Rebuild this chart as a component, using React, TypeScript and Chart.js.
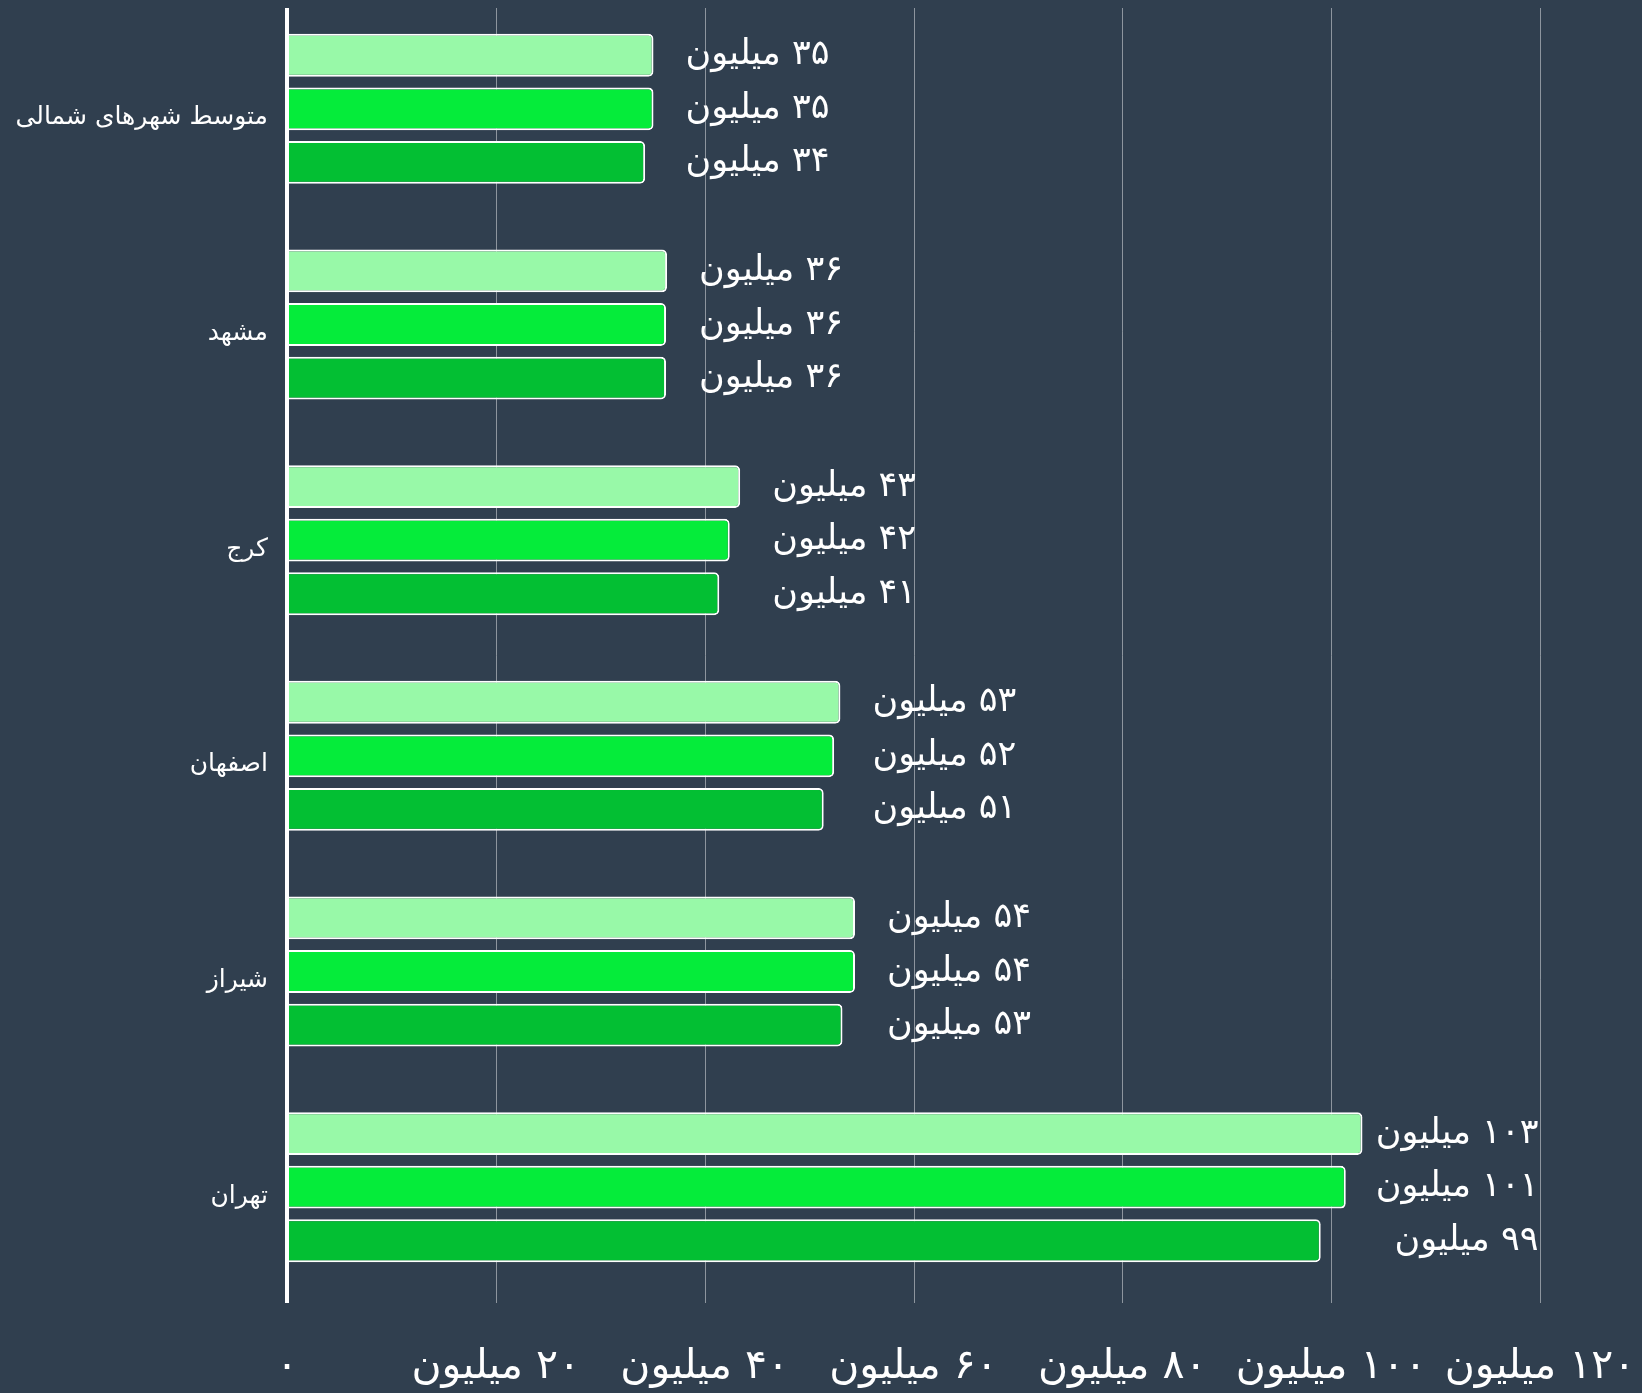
import React, { useEffect, useRef } from 'react';
import { Chart, registerables } from 'chart.js';

Chart.register(...registerables);

// ---- data ----
const categories = ['متوسط شهرهای شمالی', 'مشهد', 'کرج', 'اصفهان', 'شیراز', 'تهران'];
const seriesNames = ['سری ۱', 'سری ۲', 'سری ۳'];
const seriesA = [35.1, 36.4, 43.4, 53.0, 54.4, 103.0];
const seriesB = [35.1, 36.3, 42.4, 52.4, 54.4, 101.4];
const seriesC = [34.3, 36.3, 41.4, 51.4, 53.2, 99.0];
const xTickValues = [0, 20, 40, 60, 80, 100, 120];
const unitLabel = 'میلیون';

// ---- styles ----
const BG = '#303F4F';
const COLORS = ['#98F9A8', '#05EC3A', '#03BF33'];
const GRID_COLOR = 'rgba(255,255,255,0.45)';
const FONT = '"DejaVu Sans", sans-serif';

const toFa = (n: number | string) =>
  String(n).replace(/\d/g, (d) => '۰۱۲۳۴۵۶۷۸۹'[+d]);

const fmtTick = (v: number) => (v === 0 ? toFa(0) : '\u200F' + toFa(v) + ' ' + unitLabel);

const overlayPlugin = {
  id: 'overlay',
  beforeDraw(chart: any) {
    const { ctx, width, height } = chart;
    ctx.save();
    ctx.fillStyle = BG;
    ctx.fillRect(0, 0, width, height);
    ctx.restore();
  },
  beforeDatasetsDraw(chart: any) {
    const { ctx } = chart;
    const xs = chart.scales.x;
    ctx.save();
    ctx.strokeStyle = GRID_COLOR;
    ctx.lineWidth = 1;
    xTickValues.forEach((v) => {
      if (v === 0) return;
      const px = Math.round(xs.getPixelForValue(v)) + 0.5;
      ctx.beginPath();
      ctx.moveTo(px, 8);
      ctx.lineTo(px, 1303);
      ctx.stroke();
    });
    ctx.restore();
  },
  afterDatasetsDraw(chart: any) {
    const { ctx } = chart;
    const xs = chart.scales.x;
    // axis line
    ctx.save();
    ctx.strokeStyle = '#ffffff';
    ctx.lineWidth = 4;
    const x0 = xs.getPixelForValue(0);
    ctx.beginPath();
    ctx.moveTo(x0, 8);
    ctx.lineTo(x0, 1303);
    ctx.stroke();
    ctx.restore();

    // value labels
    const all = [seriesA, seriesB, seriesC];
    ctx.save();
    ctx.fillStyle = '#ffffff';
    ctx.font = `35px ${FONT}`;
    ctx.textAlign = 'right';
    ctx.textBaseline = 'middle';
    (ctx as any).direction = 'rtl';
    categories.forEach((_, i) => {
      const groupMax = Math.max(...all.map((s) => s[i]));
      const xr = xs.getPixelForValue(groupMax) + 176;
      all.forEach((s, j) => {
        const bar = chart.getDatasetMeta(j).data[i];
        if (!bar) return;
        ctx.fillText(toFa(Math.round(s[i])) + ' ' + unitLabel, xr, bar.y);
      });
    });
    ctx.restore();
  },
};

export default function App() {
  const ref = useRef<HTMLCanvasElement | null>(null);

  useEffect(() => {
    document.body.style.margin = '0';
    document.body.style.background = BG;
    if (!ref.current) return;
    const chart = new Chart(ref.current, {
      type: 'bar',
      data: {
        labels: categories,
        datasets: [seriesA, seriesB, seriesC].map((d, i) => ({
          label: seriesNames[i],
          data: d,
          backgroundColor: COLORS[i],
          borderColor: '#ffffff',
          borderWidth: 2,
          borderRadius: 5,
          borderSkipped: 'start',
          categoryPercentage: 0.745,
          barPercentage: 0.8,
        })),
      },
      options: {
        indexAxis: 'y',
        responsive: false,
        animation: false,
        layout: { padding: { top: 1, right: 102, left: 0, bottom: 0 } },
        plugins: {
          legend: { display: false },
          tooltip: { enabled: false },
        },
        scales: {
          x: {
            type: 'linear',
            min: 0,
            max: 120,
            afterBuildTicks: (scale: any) => {
              scale.ticks = xTickValues.map((v) => ({ value: v }));
            },
            afterFit: (scale: any) => {
              scale.height = 98;
              scale.paddingLeft = 0;
              scale.paddingRight = 0;
            },
            grid: { display: false, drawTicks: false },
            border: { display: false },
            ticks: {
              color: '#ffffff',
              font: { family: FONT, size: 41 },
              padding: 48,
              maxRotation: 0,
              autoSkip: false,
              callback: (v: any) => fmtTick(Number(v)),
            },
          },
          y: {
            type: 'category',
            afterFit: (scale: any) => {
              scale.width = 287;
              scale.paddingTop = 0;
              scale.paddingBottom = 0;
            },
            grid: { display: false, drawTicks: false },
            border: { display: false },
            ticks: {
              color: '#ffffff',
              font: { family: FONT, size: 25 },
              padding: 19,
              labelOffset: 9,
            },
          },
        },
      },
      plugins: [overlayPlugin],
    } as any);
    return () => chart.destroy();
  }, []);

  return (
    <div style={{ width: 1642, height: 1393 }}>
      <canvas ref={ref} width={1642} height={1393} style={{ display: 'block' }} />
    </div>
  );
}
